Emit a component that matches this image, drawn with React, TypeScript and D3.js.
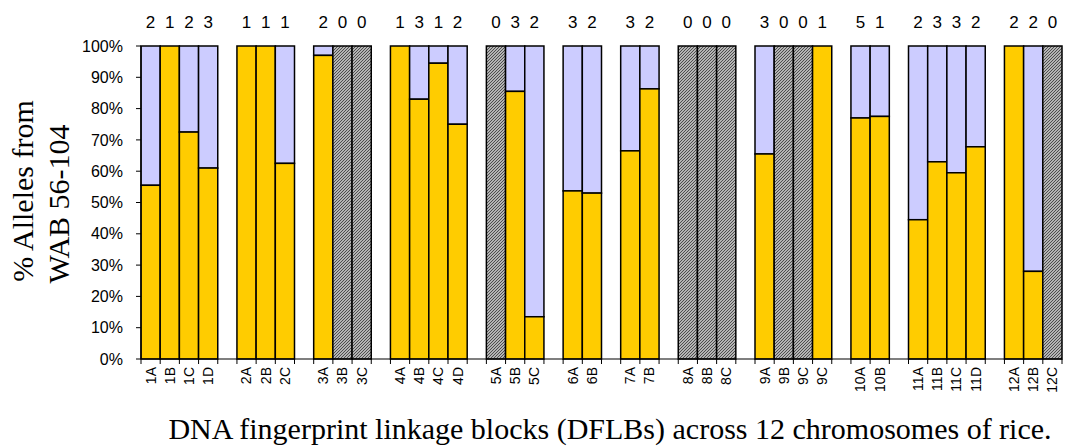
import React from "react";
import * as d3 from "d3";

const categories = ["1A","1B","1C","1D","","2A","2B","2C","","3A","3B","3C","","4A","4B","4C","4D","","5A","5B","5C","","6A","6B","","7A","7B","","8A","8B","8C","","9A","9B","9C","9C","","10A","10B","","11A","11B","11C","11D","","12A","12B","12C"];
// % alleles from WAB 56-104 (null = no data / hatched; blank slots also null)
const wabPercent: (number | null)[] = [55.5,100,72.5,61,null,100,100,62.5,null,97,null,null,null,100,83,94.5,75,null,null,85.5,13.5,null,53.7,53,null,66.5,86.3,null,null,null,null,null,65.5,null,null,100,null,77,77.5,null,44.5,63,59.5,67.8,null,100,28,null];
const markerCounts: string[] = ["2","1","2","3","","1","1","1","","2","0","0","","1","3","1","2","","0","3","2","","3","2","","3","2","","0","0","0","","3","0","0","1","","5","1","","2","3","3","2","","2","2","0"];
const yTicks = [0,10,20,30,40,50,60,70,80,90,100];

const W = 1067, H = 446;
const left = 141, right = 1062, top = 46, bottom = 359;

export default function App() {
  const idx = categories.map((_, i) => i);
  const x = d3.scaleBand<number>().domain(idx).range([left, right]).padding(0);
  const y = d3.scaleLinear().domain([0, 100]).range([bottom, top]);
  const bw = x.bandwidth();
  const sans = "'Liberation Sans', Arial, sans-serif";
  const serif = "'Liberation Serif', 'Times New Roman', serif";

  return (
    <svg width={W} height={H} style={{ position: "absolute", left: 0, top: 0, background: "#fff" }}>
      <defs>
        <pattern id="hatch" patternUnits="userSpaceOnUse" width="3" height="3">
          <rect width="3" height="3" fill="#b4b4b4" />
          <path d="M-1,1 L1,-1 M0,3 L3,0 M2,4 L4,2" stroke="#4e4e4e" strokeWidth="1" />
        </pattern>
      </defs>
      {idx.map((i) => {
        const cat = categories[i];
        if (!cat) return null;
        const v = wabPercent[i];
        const x0 = x(i)!;
        if (v === null) {
          return (
            <rect key={i} x={x0} y={y(100)} width={bw} height={y(0) - y(100)} fill="url(#hatch)" stroke="#000" strokeWidth={1.5} />
          );
        }
        return (
          <g key={i}>
            {v < 100 && (
              <rect x={x0} y={y(100)} width={bw} height={y(v) - y(100)} fill="#CCCCFF" stroke="#000" strokeWidth={1.5} />
            )}
            <rect x={x0} y={y(v)} width={bw} height={y(0) - y(v)} fill="#FFCC00" stroke="#000" strokeWidth={1.5} />
          </g>
        );
      })}
      {/* axes */}
      <line x1={left} x2={left} y1={top} y2={bottom} stroke="#000" strokeWidth={1.2} />
      <line x1={left} x2={right} y1={bottom} y2={bottom} stroke="#000" strokeWidth={1.2} />
      {yTicks.map((t) => (
        <g key={t}>
          <line x1={left - 5} x2={left} y1={y(t)} y2={y(t)} stroke="#000" strokeWidth={1} />
          <text x={123} y={y(t)} dy="0.35em" textAnchor="end" fontFamily={sans} fontSize={16}>{t}%</text>
        </g>
      ))}
      {d3.range(categories.length + 1).map((k) => {
        const xx = left + k * bw;
        return <line key={k} x1={xx} x2={xx} y1={bottom} y2={bottom + 5} stroke="#000" strokeWidth={1} />;
      })}
      {idx.map((i) => categories[i] ? (
        <text key={i} transform={`translate(${x(i)! + bw / 2},${bottom + 8}) rotate(-90)`} textAnchor="end" dy="0.35em" fontFamily={sans} fontSize={14}>{categories[i]}</text>
      ) : null)}
      {idx.map((i) => markerCounts[i] !== "" ? (
        <text key={i} x={x(i)! + bw / 2} y={28} textAnchor="middle" fontFamily={sans} fontSize={17}>{markerCounts[i]}</text>
      ) : null)}
      <text transform={`translate(33,191) rotate(-90)`} textAnchor="middle" fontFamily={serif} fontSize={30}>% Alleles from</text>
      <text transform={`translate(69,204) rotate(-90)`} textAnchor="middle" fontFamily={serif} fontSize={30}>WAB 56-104</text>
      <text x={610} y={439} textAnchor="middle" fontFamily={serif} fontSize={30}>DNA fingerprint linkage blocks (DFLBs) across 12 chromosomes of rice.</text>
    </svg>
  );
}
